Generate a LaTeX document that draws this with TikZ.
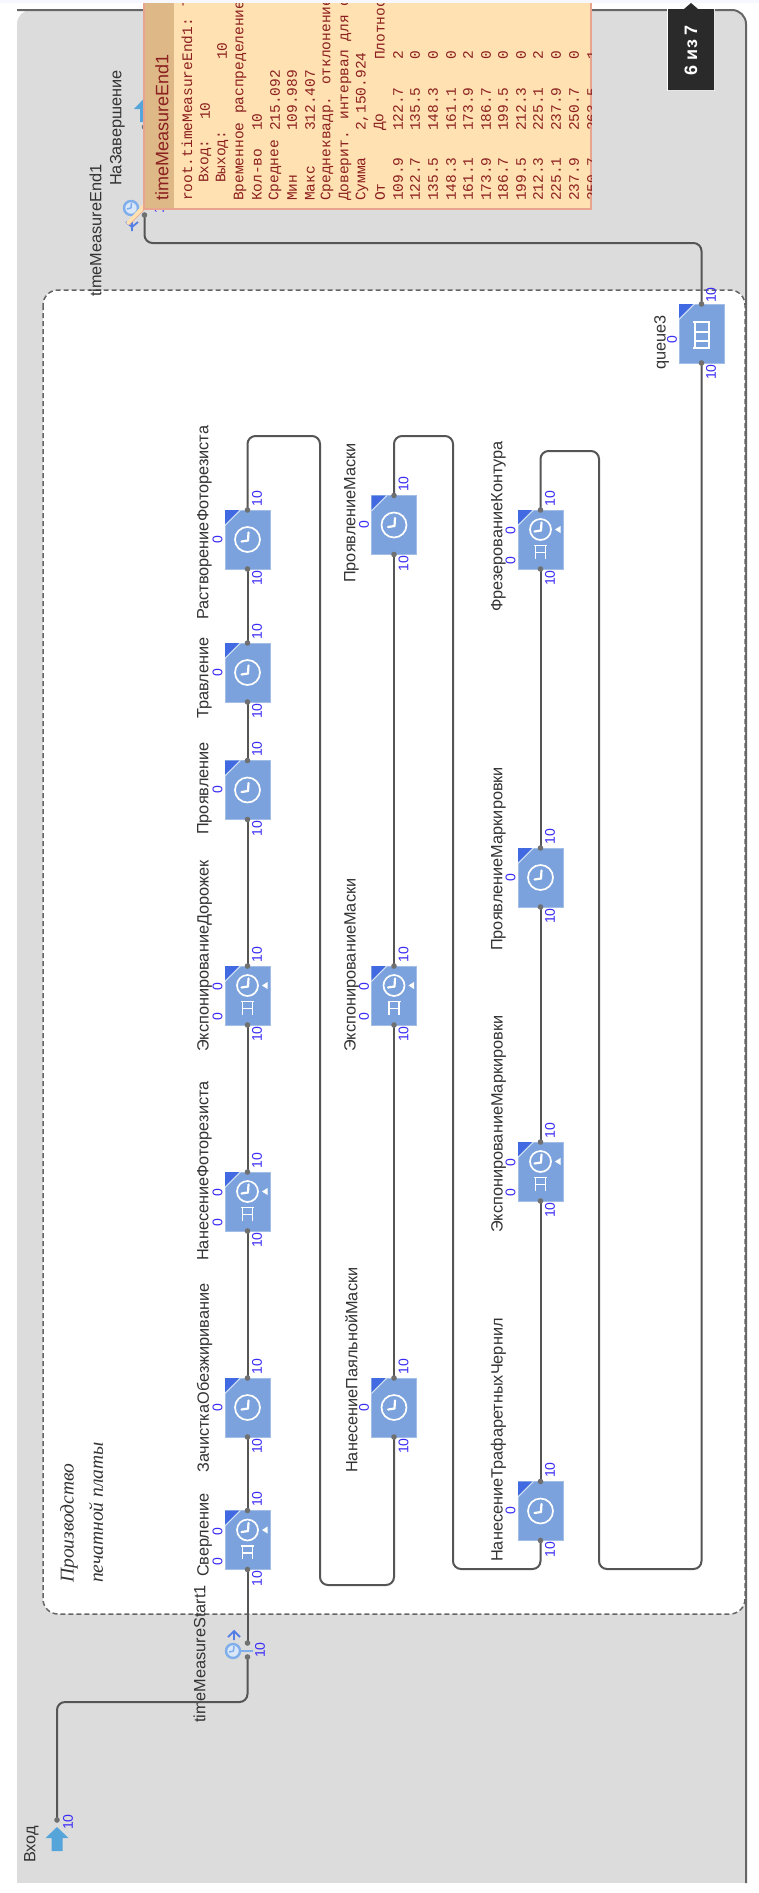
\documentclass[tikz,border=0pt]{standalone}
\usepackage{fontspec}
\setmainfont{Liberation Sans}
\newfontfamily\monof{Liberation Mono}
\newfontfamily\italf[ItalicFont=Liberation Serif Italic]{Liberation Serif}
\usetikzlibrary{calc}
\definecolor{panelgray}{HTML}{DCDCDC}
\definecolor{edgegray}{HTML}{666666}
\definecolor{wirecol}{HTML}{555555}
\definecolor{portcol}{HTML}{707070}
\definecolor{blockcol}{HTML}{7BA2DC}
\definecolor{cornercol}{HTML}{4169E1}
\definecolor{numcol}{HTML}{3A2CF5}
\definecolor{arrowcol}{HTML}{55A5DB}
\definecolor{iconcol}{HTML}{7FAEEA}
\definecolor{notefill}{HTML}{FFE1B2}
\definecolor{notehead}{HTML}{DEB887}
\definecolor{noteedge}{HTML}{E8A48E}
\definecolor{notetext}{HTML}{8B1F1F}
\definecolor{tipcol}{HTML}{2A2A2A}
\tikzset{
  blockbox/.style={rectangle,fill=blockcol,draw=blockcol!70!white,line width=.5pt,minimum width=45pt,minimum height=59pt,inner sep=0pt,outer sep=0pt},
  wire/.style={draw=wirecol,line width=2pt,rounded corners=8pt},
  portdot/.style={fill=portcol,draw=none},
  lbl/.style={rotate=90,anchor=west,inner sep=0pt,font=\fontsize{16.3}{16.3}\selectfont,text=black!80},
  num/.style={rotate=90,anchor=center,inner sep=0pt,font=\fontsize{14}{14}\selectfont,text=numcol},
  tbl/.style={rotate=90,anchor=west,inner sep=0pt,font=\monof\fontsize{14.5}{14.5}\selectfont,text=notetext},
  whiteline/.style={draw=white,line width=1.7pt},
}
\newcommand{\clockicon}[3]{%
  \draw[whiteline] (#1,#2) circle[radius=#3];
  \draw[white,line width=2.2pt,line cap=round] (#1+.5,#2+1) -- (#1+1,#2-7);
  \draw[white,line width=2.2pt,line cap=round] (#1+.5,#2+1) -- (#1-6,#2+2);
}
\newcommand{\blockbase}[3]{%
  \node[blockbox] (#1) at (#2,#3) {};
  \fill[cornercol] (#1.north west) -- ++(14,0) -- ++(-14,14) -- cycle;
  \draw[white!70!blockcol,line width=.8pt] ($(#1.north west)+(15.5,0)$) -- ($(#1.north west)+(0,15.5)$);
  \node[num] (#1-outn) at (#2+9.5,#3-41) {10};
  \node[num] (#1-inn) at (#2+9.5,#3+38.5) {10};
}
\newcommand{\clockblock}[3]{%
  \blockbase{#1}{#2}{#3}
  \clockicon{#2}{#3}{12.5}
  \node[num] (#1-z) at (#2-30,#3) {0};
}
\newcommand{\queueglyphsmall}[2]{%
  \draw[white,line width=1.7pt] (#1-5,#2+19) -- (#1-5,#2+6) -- (#1+5,#2+6) -- (#1+5,#2+19);
  \draw[white,line width=1.7pt] (#1-6.5,#2+6) -- (#1+6.5,#2+6);
  \draw[white,line width=1.7pt] (#1-5,#2+13) -- (#1+5,#2+13);
}
\newcommand{\qdblock}[3]{%
  \blockbase{#1}{#2}{#3}
  \clockicon{#2}{#3-10}{10.5}
  \fill[white] (#2+14.5,#3-10) -- (#2+20,#3-13.5) -- (#2+20,#3-6.5) -- cycle;
  \queueglyphsmall{#2}{#3}
  \node[num] (#1-z1) at (#2-30,#3-8.5) {0};
  \node[num] (#1-z2) at (#2-30,#3+21.5) {0};
}
\newcommand{\plabel}[4]{\node[lbl] (#1) at (#2+1.5,#3) {#4};}
\newcommand{\tb}[4]{\node[tbl] (#1) at (#2,#3) {#4};}
\begin{document}
\begin{tikzpicture}[x=1pt,y=-1pt]
\useasboundingbox (0,0) rectangle (759,1893);
\fill[white] (0,0) rectangle (759,1893);
\fill[blue!3!white] (0,0) rectangle (759,3);
% panel
\fill[panelgray,rounded corners=14pt] (17,10) -- (746,10) -- (746,1900) -- (17,1900) -- cycle;
\fill[white] (0,1883) rectangle (759,1893);
\fill[white] (746.8,10) rectangle (759,1893);
\draw[edgegray,line width=2pt,rounded corners=14pt] (17,10) -- (746,10) -- (746,1883);
% white region
\draw[edgegray,fill=white,line width=1.5pt,dash pattern=on 5pt off 3pt,rounded corners=15pt] (43,290) rectangle (745,1614);

% title
\node[rotate=90,anchor=west,inner sep=0pt,font=\italf\itshape\fontsize{19.5}{19.5}\selectfont,text=black!80] (title1) at (69,1583) {Производство};
\node[rotate=90,anchor=west,inner sep=0pt,font=\italf\itshape\fontsize{19.5}{19.5}\selectfont,text=black!80] (title2) at (96,1583) {печатной платы};

% row 1
\qdblock{sver}{247.5}{1540}
\clockblock{zach}{247.5}{1407.5}
\qdblock{nanfot}{247.5}{1201.5}
\qdblock{ekspdor}{247.5}{995.5}
\clockblock{prov}{247.5}{790}
\clockblock{trav}{247.5}{672.5}
\clockblock{rast}{247.5}{539.5}
% row 2
\clockblock{nanpay}{394}{1407.5}
\qdblock{ekspmas}{394}{995.5}
\clockblock{prmas}{394}{525}
% row 3
\clockblock{naktraf}{540.5}{1511}
\qdblock{ekspmar}{540.5}{1171.5}
\clockblock{prmar}{540.5}{877.5}
\qdblock{frez}{540.5}{539.5}
% queue3
\node[blockbox] (queue) at (701.5,333.5) {};
\fill[cornercol] (queue.north west) -- ++(14,0) -- ++(-14,14) -- cycle;
\draw[white!70!blockcol,line width=.8pt] ($(queue.north west)+(15.5,0)$) -- ($(queue.north west)+(0,15.5)$);
\draw[white,line width=1.7pt] (695,321) -- (695,348) (709,321) -- (709,348)
  (693,322) -- (710,322) (695,332) -- (709,332) (695,341) -- (709,341) (693,348) -- (710,348);
\node[num] (queue-outn) at (711,295) {10};
\node[num] (queue-inn) at (711,372) {10};
\node[num] (queue-z) at (672,340) {0};

% labels
\plabel{lSver}{203}{1577}{Сверление}
\plabel{lZach}{203}{1473}{ЗачисткаОбезжиривание}
\plabel{lNanfot}{203}{1261}{НанесениеФоторезиста}
\plabel{lEkspdor}{203}{1052}{ЭкспонированиеДорожек}
\plabel{lProv}{203}{835}{Проявление}
\plabel{lTrav}{203}{719}{Травление}
\plabel{lRast}{203}{620}{РастворениеФоторезиста}
\plabel{lNanpay}{350}{1473}{НанесениеПаяльнойМаски}
\plabel{lEkspmas}{350}{1052}{ЭкспонированиеМаски}
\plabel{lPrmas}{350}{583}{ПроявлениеМаски}
\plabel{lTraf}{497}{1562}{НанесениеТрафаретныхЧернил}
\plabel{lEkspmar}{497}{1233}{ЭкспонированиеМаркировки}
\plabel{lPrmar}{497}{951}{ПроявлениеМаркировки}
\plabel{lFrez}{497}{612}{ФрезерованиеКонтура}
\plabel{lQueue}{660}{370}{queue3}
\plabel{lStart}{198}{1723}{timeMeasureStart1}
\plabel{lVhod}{30}{1863}{Вход}
\plabel{lEnd}{94}{297}{timeMeasureEnd1}
\plabel{lZav}{116}{186}{НаЗавершение}

% source arrow
\fill[arrowcol] (57,1827) -- (68.5,1838) -- (62.5,1838) -- (62.5,1851) -- (51.5,1851) -- (51.5,1838) -- (45.5,1838) -- cycle;
\coordinate (enterPort) at (57,1820);
\node[num] (enterN) at (68,1822) {10};
% time measure start
\coordinate (tmsIn) at (247.5,1657);
\coordinate (tmsOut) at (247.5,1643);
\draw[iconcol,line width=2.4pt] (241,1651) -- (253,1651);
\draw[iconcol,fill=white!70!iconcol,line width=2.4pt] (233,1651) circle[radius=7];
\draw[iconcol,line width=1.5pt] (233.5,1651) -- (234,1646) (233.5,1651) -- (229,1652);
\draw[cornercol!70!iconcol,line width=1.8pt] (228,1637) -- (234,1631) -- (240,1637) (234,1631) -- (234,1640);
\node[num] (tmsN) at (260,1650) {10};
% time measure end and sink
\coordinate (sinkPort) at (144.5,127);
\coordinate (tmeIn) at (144.5,202);
\coordinate (tmeOut) at (144.5,215);
\fill[arrowcol] (144.5,98) -- (155,109) -- (149,109) -- (149,122) -- (140,122) -- (140,109) -- (134,109) -- cycle;
\draw[wirecol,line width=1.7pt] (sinkPort) -- (tmeIn);
\draw[iconcol,fill=white!70!iconcol,line width=2.4pt] (131,208) circle[radius=7];
\draw[iconcol,line width=1.5pt] (131,208) -- (131.5,203) (131,208) -- (127,209);
\draw[cornercol!70!iconcol,line width=1.8pt] (126,222) -- (132,227) -- (138,222) (132,221) -- (132,231);
\node[num] (tmeN) at (159,206) {10};

% connectors
\coordinate (a1) at (320,436); \coordinate (a2) at (320,1585);
\coordinate (b1) at (453,436); \coordinate (b2) at (453,1569);
\coordinate (d1) at (599,451); \coordinate (d2) at (599,1569);
\coordinate (e1) at (144.5,243);
\coordinate (f1) at (247.5,1702);
\draw[wire] (enterPort) |- (f1) -- (tmsIn);
\draw[wire] (tmsOut) -- (sver.south);
\draw[wire] (sver.north) -- (zach.south);
\draw[wire] (zach.north) -- (nanfot.south);
\draw[wire] (nanfot.north) -- (ekspdor.south);
\draw[wire] (ekspdor.north) -- (prov.south);
\draw[wire] (prov.north) -- (trav.south);
\draw[wire] (trav.north) -- (rast.south);
\draw[wire] (rast.north) |- (a1) -- (a2) -| (nanpay.south);
\draw[wire] (nanpay.north) -- (ekspmas.south);
\draw[wire] (ekspmas.north) -- (prmas.south);
\draw[wire] (prmas.north) |- (b1) -- (b2) -| (naktraf.south);
\draw[wire] (naktraf.north) -- (ekspmar.south);
\draw[wire] (ekspmar.north) -- (prmar.south);
\draw[wire] (prmar.north) -- (frez.south);
\draw[wire] (frez.north) |- (d1) -- (d2) -| (queue.south);
\draw[wire] (queue.north) |- (e1) -- (tmeOut);
% ports
\foreach \b in {sver,zach,nanfot,ekspdor,prov,trav,rast,nanpay,ekspmas,prmas,naktraf,ekspmar,prmar,frez,queue}{
  \fill[portdot] (\b.north) circle[radius=2.8];
  \fill[portdot] (\b.south) circle[radius=2.8];
}
\foreach \p in {enterPort,tmsIn,tmsOut,sinkPort,tmeOut}{\fill[portdot] (\p) circle[radius=2.8];}

% note
\fill[notefill] (147,207) -- (129,225) -- (126,223) -- (144,203) -- cycle;
\draw[noteedge,line width=.6pt] (146,208) -- (129,225);
\fill[notefill] (144,3) rectangle (591,209);
\fill[notehead] (144,3) rectangle (174,209);
\draw[noteedge,line width=1.2pt] (144,3) -- (144,209) -- (591,209) -- (591,3);
\node[rotate=90,anchor=west,inner sep=0pt,font=\fontsize{18}{18}\selectfont,text=notetext] (noteHead) at (162,201) {timeMeasureEnd1};
\begin{scope}
\clip (174,3) rectangle (591,209);
\tb{t1}{187}{201}{root.timeMeasureEnd1: Т}
\tb{t2a}{205}{183}{Вход:}
\tb{t2b}{205}{120}{10}
\tb{t3a}{222}{183}{Выход:}
\tb{t3b}{222}{60}{10}
\tb{t4}{240}{201}{Временное распределение}
\tb{t5a}{257}{201}{Кол-во}
\tb{t5b}{257}{131}{10}
\tb{t6a}{275}{201}{Среднее}
\tb{t6b}{275}{131}{215.092}
\tb{t7a}{292}{201}{Мин}
\tb{t7b}{292}{131}{109.989}
\tb{t8a}{310}{201}{Макс}
\tb{t8b}{310}{131}{312.407}
\tb{t9}{327}{201}{Среднеквадр. отклонение}
\tb{t10}{345}{201}{Доверит. интервал для с}
\tb{t11a}{362}{201}{Сумма}
\tb{t11b}{362}{131}{2,150.924}
\tb{t12a}{380}{201}{От}
\tb{t12b}{380}{131}{До}
\tb{t12c}{380}{60}{Плотнос}
\tb{r1a}{398}{201}{109.9} \tb{r1b}{398}{131}{122.7} \tb{r1c}{398}{60}{2}
\tb{r2a}{415}{201}{122.7} \tb{r2b}{415}{131}{135.5} \tb{r2c}{415}{60}{0}
\tb{r3a}{433}{201}{135.5} \tb{r3b}{433}{131}{148.3} \tb{r3c}{433}{60}{0}
\tb{r4a}{451}{201}{148.3} \tb{r4b}{451}{131}{161.1} \tb{r4c}{451}{60}{0}
\tb{r5a}{468}{201}{161.1} \tb{r5b}{468}{131}{173.9} \tb{r5c}{468}{60}{2}
\tb{r6a}{486}{201}{173.9} \tb{r6b}{486}{131}{186.7} \tb{r6c}{486}{60}{0}
\tb{r7a}{503}{201}{186.7} \tb{r7b}{503}{131}{199.5} \tb{r7c}{503}{60}{0}
\tb{r8a}{521}{201}{199.5} \tb{r8b}{521}{131}{212.3} \tb{r8c}{521}{60}{0}
\tb{r9a}{538}{201}{212.3} \tb{r9b}{538}{131}{225.1} \tb{r9c}{538}{60}{2}
\tb{r10a}{556}{201}{225.1} \tb{r10b}{556}{131}{237.9} \tb{r10c}{556}{60}{0}
\tb{r11a}{574}{201}{237.9} \tb{r11b}{574}{131}{250.7} \tb{r11c}{574}{60}{0}
\tb{r12a}{592}{201}{250.7} \tb{r12b}{592}{131}{263.5} \tb{r12c}{592}{60}{1}
\end{scope}
% page tooltip
\fill[white] (667,8) rectangle (715,91);
\fill[tipcol] (668,9) -- (684,9) -- (691,3) -- (698,9) -- (714,9) -- (714,90) -- (668,90) -- cycle;
\node[rotate=90,inner sep=0pt,font=\bfseries\fontsize{18}{18}\selectfont,text=white] (tipText) at (691,50) {6 из 7};
\end{tikzpicture}
\end{document}
